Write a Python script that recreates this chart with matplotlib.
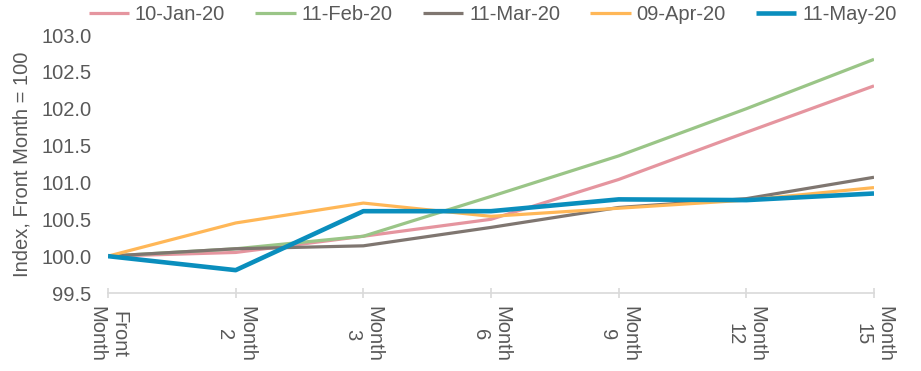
import matplotlib.pyplot as plt

# Term structure data (index, front month = 100)
months = ['Front\nMonth', 'Month\n2', 'Month\n3', 'Month\n6', 'Month\n9', 'Month\n12', 'Month\n15']
jan = [100.0, 100.05, 100.27, 100.50, 101.04, 101.68, 102.31]
feb = [100.0, 100.10, 100.27, 100.81, 101.36, 102.00, 102.67]
mar = [100.0, 100.10, 100.14, 100.39, 100.66, 100.78, 101.07]
apr = [100.0, 100.45, 100.72, 100.54, 100.65, 100.76, 100.93]
may = [100.0, 99.81, 100.61, 100.61, 100.77, 100.76, 100.85]

series_names = ['10-Jan-20', '11-Feb-20', '11-Mar-20', '09-Apr-20', '11-May-20']
colors = ['#E5959F', '#9AC587', '#7F7670', '#FFB757', '#0A8EBD']

plt.rcParams['font.family'] = ['Liberation Sans', 'DejaVu Sans']
text_col = '#595959'
fs = 14.5

fig = plt.figure(figsize=(9.21, 3.71), dpi=100)
ax = fig.add_axes([108 / 921, 1 - 293 / 371, (874 - 108) / 921, (293 - 35) / 371])

x = list(range(len(months)))
for vals, name, c in zip([jan, feb, mar, apr, may], series_names, colors):
    lw = 3.3 if name == '11-May-20' else 2.3
    ax.plot(x, vals, color=c, lw=lw, label=name, solid_capstyle='butt')

ax.set_xlim(0, len(months) - 1)
ax.set_ylim(99.5, 103.0)
ax.set_yticks([99.5, 100.0, 100.5, 101.0, 101.5, 102.0, 102.5, 103.0])
ax.set_yticklabels(['%.1f' % v for v in ax.get_yticks()])
ax.set_xticks(x)
ax.set_xticklabels(months, rotation=-90, ha='center', va='top', multialignment='center')

for s in ['top', 'right', 'left']:
    ax.spines[s].set_visible(False)
ax.spines['bottom'].set_color('#D9D9D9')
ax.spines['bottom'].set_linewidth(1.2)
ax.tick_params(axis='x', direction='inout', length=7, width=1.2, color='#D9D9D9',
               labelsize=fs, labelcolor=text_col, pad=6)
ax.tick_params(axis='y', length=0, labelsize=fs, labelcolor=text_col, pad=12)

ax.set_ylabel('Index, Front Month = 100', fontsize=fs, color=text_col, labelpad=7)

fig.legend(loc='upper center', bbox_to_anchor=(0.535, 1.035), ncol=5, frameon=False,
           fontsize=fs, labelcolor=text_col, handlelength=2.0, handletextpad=0.3,
           columnspacing=1.5)

fig.savefig('out.png', dpi=100)
